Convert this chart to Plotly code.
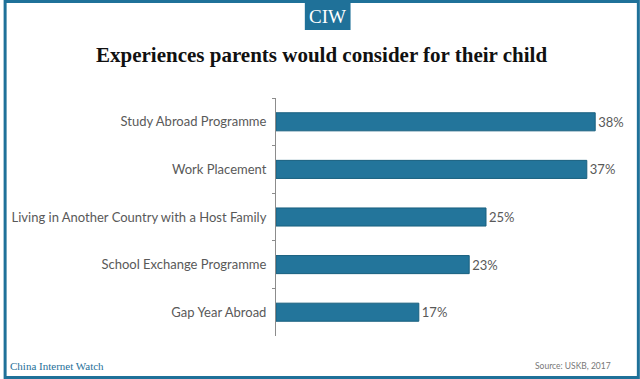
import plotly.graph_objects as go

categories = ["Study Abroad Programme", "Work Placement",
              "Living in Another Country with a Host Family",
              "School Exchange Programme", "Gap Year Abroad"]
values = [38, 37, 25, 23, 17]
labels = ["38%", "37%", "25%", "23%", "17%"]

W, H = 640, 379
ML, MR, MT, MB = 274, 28, 98, 43
PW, PH = W - ML - MR, H - MT - MB

def px(x):
    return (x - ML) / PW

def py(y):
    return 1 - (y - MT) / PH

BLUE = "#1f7199"
BAR = "#23759b"
LABEL_FONT = "Lato, DejaVu Sans"

fig = go.Figure(go.Bar(
    y=categories, x=values, orientation="h",
    text=labels, textposition="outside",
    textfont=dict(family=LABEL_FONT, size=13, color="#595959"),
    marker=dict(color=BAR, line=dict(color="#19607f", width=1)),
    cliponaxis=False,
))

fig.update_layout(
    width=W, height=H,
    margin=dict(l=ML, r=MR, t=MT, b=MB),
    paper_bgcolor="white", plot_bgcolor="white",
    bargap=0.62,
    showlegend=False,
    xaxis=dict(range=[0, 40], visible=False),
    yaxis=dict(autorange="reversed", showline=True, linecolor="#8c8c8c", linewidth=1,
               ticks="outside", tickson="boundaries", ticklen=3, tickcolor="#8c8c8c",
               ticklabelstandoff=6,
               tickfont=dict(family=LABEL_FONT, size=13, color="#595959"),
               showgrid=False),
    shapes=[
        dict(type="rect", xref="paper", yref="paper",
             x0=px(1.5), x1=px(638.5), y0=py(1.5), y1=py(377.5),
             line=dict(color=BLUE, width=3), fillcolor="rgba(0,0,0,0)", layer="above"),
        dict(type="rect", xref="paper", yref="paper",
             x0=px(303), x1=px(349), y0=py(3), y1=py(30),
             line=dict(width=0), fillcolor=BLUE),
    ],
    annotations=[
        dict(text="CIW", xref="paper", yref="paper", x=px(326), y=py(17),
             showarrow=False, font=dict(family="Liberation Serif", size=19, color="white"),
             xanchor="center", yanchor="middle"),
        dict(text="<b>Experiences parents would consider for their child</b>", xref="paper", yref="paper",
             x=px(320), y=py(55), showarrow=False,
             font=dict(family="Liberation Serif", size=21, color="#111111"),
             xanchor="center", yanchor="middle"),
        dict(text="China Internet Watch", xref="paper", yref="paper", x=px(4), y=py(366),
             showarrow=False, font=dict(family="Liberation Serif", size=11, color=BLUE),
             xanchor="left", yanchor="middle"),
        dict(text="Source: USKB, 2017", xref="paper", yref="paper", x=px(613), y=py(366),
             showarrow=False, font=dict(family=LABEL_FONT, size=8.5, color="#777777"),
             xanchor="right", yanchor="middle"),
    ],
)

fig.write_html("out.html", config={"displayModeBar": False},
               post_script="document.body.style.margin='0';document.body.style.overflow='hidden';")
